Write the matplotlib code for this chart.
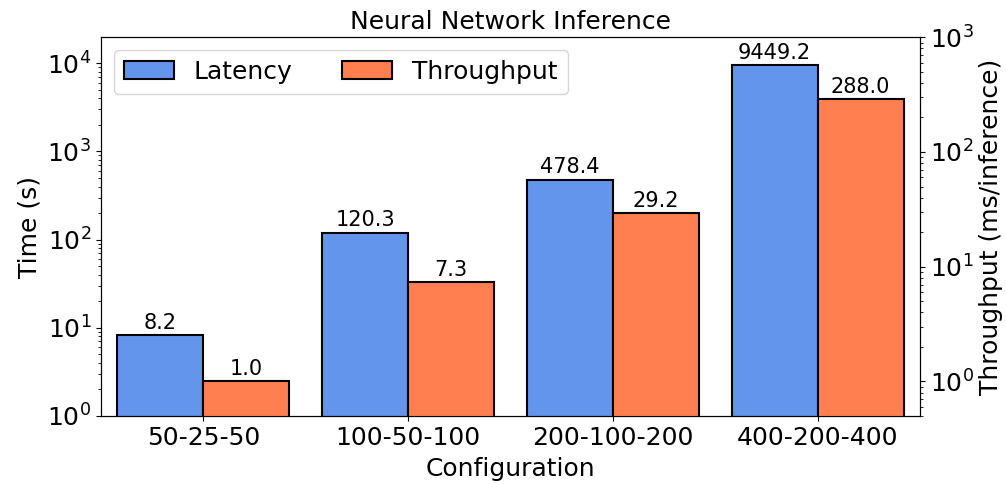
import matplotlib
matplotlib.use("Agg")
import matplotlib.pyplot as plt
import numpy as np

configs = ["50-25-50", "100-50-100", "200-100-200", "400-200-400"]
latency = [8.2, 120.3, 478.4, 9449.2]
throughput = [1.0, 7.3, 29.2, 288.0]

blue = "#6495ED"
orange = "#FF7F50"
width = 0.42
fs = 18

fig = plt.figure(figsize=(10.06, 4.84), dpi=100)
ax = fig.add_axes([0.1004, 0.1405, 0.9145 - 0.1004, 0.923 - 0.1405])
ax2 = ax.twinx()

x = np.arange(len(configs))
b1 = ax.bar(x - width / 2, latency, width, color=blue, edgecolor="black", linewidth=1.5, label="Latency")
b2 = ax2.bar(x + width / 2, throughput, width, color=orange, edgecolor="black", linewidth=1.5, label="Throughput")

ax.set_yscale("log")
ax2.set_yscale("log")
ax.set_ylim(1, 19700)
ax2.set_ylim(0.5, 1000)
ax.set_xlim(-0.5, 3.5)

for rect, v in zip(b1, latency):
    ax.annotate(f"{v:.1f}", (rect.get_x() + rect.get_width() / 2, rect.get_height()),
                xytext=(0, 2), textcoords="offset points", ha="center", va="bottom", fontsize=15)
for rect, v in zip(b2, throughput):
    ax2.annotate(f"{v:.1f}", (rect.get_x() + rect.get_width() / 2, rect.get_height()),
                 xytext=(0, 2), textcoords="offset points", ha="center", va="bottom", fontsize=15)

ax.set_xticks(x)
ax.set_xticklabels(configs, fontsize=fs)
ax.tick_params(axis="y", labelsize=fs)
ax2.tick_params(axis="y", labelsize=fs)
ax.set_xlabel("Configuration", fontsize=fs, labelpad=5)
ax.set_ylabel("Time (s)", fontsize=fs)
ax2.set_ylabel("Throughput (ms/inference)", fontsize=fs)
ax.set_title("Neural Network Inference", fontsize=fs, pad=6)

ax2.legend([b1, b2], ["Latency", "Throughput"], loc="upper left", ncol=2, fontsize=fs)

fig.savefig("out.png", dpi=100)
